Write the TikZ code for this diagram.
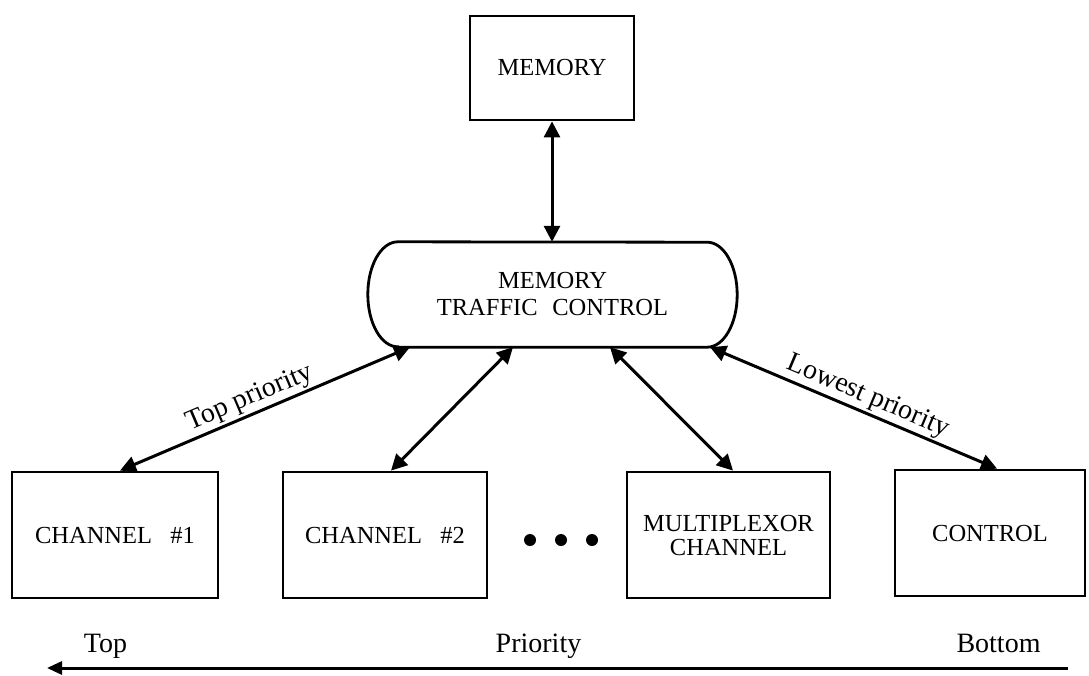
\documentclass[tikz,border=0pt]{standalone}
\usepackage{fontspec}
\setmainfont{Liberation Serif}
\usetikzlibrary{arrows.meta}

\tikzset{
  box/.style={draw, line width=2.8pt, inner sep=0pt, align=center,
    font=\fontsize{24.5}{24}\selectfont},
  link/.style={line width=3pt,
    {Triangle[length=16pt,width=16pt]}-{Triangle[length=16pt,width=16pt]}},
  slantlabel/.style={sloped, above, inner sep=2pt,
    font=\fontsize{28}{30}\selectfont},
  scalelabel/.style={anchor=base, inner sep=0pt,
    font=\fontsize{28}{30}\selectfont},
  scalearrow/.style={line width=3pt, -{Triangle[length=15pt,width=13pt]}}
}

\begin{document}
\begin{tikzpicture}[x=1pt,y=1pt]
  \useasboundingbox (0,0) rectangle (1089,-675);

  % main store
  \node[box, minimum width=164pt, minimum height=104pt] (mem) at (552,-68) {MEMORY};

  % traffic controller with elliptical ends
  \node[minimum width=369pt, minimum height=105pt, inner sep=0pt, align=center,
        font=\fontsize{24.5}{27}\selectfont] (mtc) at (552.5,-294.5)
        {MEMORY\\TRAFFIC\hspace{0.6em}CONTROL};
  \draw[line width=2.8pt]
    ([xshift=30pt]mtc.south west) -- ([xshift=-30pt]mtc.south east)
    arc[start angle=-90, end angle=90, x radius=30pt, y radius=52.5pt]
    -- ([xshift=30pt]mtc.north west)
    arc[start angle=90, end angle=270, x radius=30pt, y radius=52.5pt]
    -- cycle;

  % requesting units
  \node[box, minimum width=206pt, minimum height=126pt] (ch1) at (115,-535) {CHANNEL\hspace{0.75em}\#1};
  \node[box, minimum width=204pt, minimum height=126pt] (ch2) at (385,-535) {CHANNEL\hspace{0.75em}\#2};
  \node[box, minimum width=203pt, minimum height=126pt] (mux) at (728.5,-535) {MULTIPLEXOR\\CHANNEL};
  \node[box, minimum width=190pt, minimum height=126pt] (ctl) at (990,-533) {CONTROL};

  % ellipsis between the channels
  \foreach \x in {530,561,592}
    \fill (\x,-540) circle[radius=6pt];

  % connections
  \draw[link] (mem.south) -- (mem.south |- mtc.north);
  \draw[link] ([xshift=5pt]ch1.north) -- node[slantlabel, pos=0.47] {Top priority} ([xshift=-142.5pt]mtc.south);
  \draw[link] ([xshift=6pt]ch2.north) -- ([xshift=-39.5pt]mtc.south);
  \draw[link] ([xshift=57.5pt]mtc.south) -- ([xshift=4.5pt]mux.north);
  \draw[link] ([xshift=157.5pt]mtc.south) -- node[slantlabel, pos=0.53] {Lowest priority} ([xshift=7pt]ctl.north);

  % priority scale
  \node[scalelabel] (ltop) at (105.5,-652) {Top};
  \node[scalelabel] (lpri) at (538.5,-652) {Priority};
  \node[scalelabel] (lbot) at (998.5,-652) {Bottom};
  \coordinate (scaleR) at (1068,-668);
  \coordinate (scaleL) at (47,-668);
  \draw[scalearrow] (scaleR) -- (scaleL);
\end{tikzpicture}
\end{document}
